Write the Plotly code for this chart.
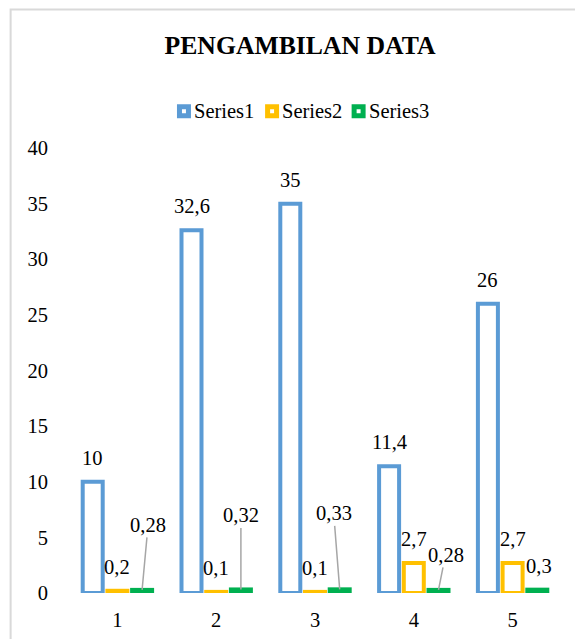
import plotly.graph_objects as go

categories = ["1", "2", "3", "4", "5"]
x_pos = [1, 2, 3, 4, 5]
series1 = [10, 32.6, 35, 11.4, 26]
series2 = [0.2, 0.1, 0.1, 2.7, 2.7]
series3 = [0.28, 0.32, 0.33, 0.28, 0.3]
series_names = ["Series1", "Series2", "Series3"]
colors = ["#5B9BD5", "#FFC000", "#00B050"]
y_ticks = [0, 5, 10, 15, 20, 25, 30, 35, 40]

FONT = "Liberation Serif, Times New Roman, serif"
FS = 20.5
W, H = 575, 631  # page body has an 8px margin
ML, MR, MT, MB = 59.5, 20.5, 140, 46
PW, PH = W - ML - MR, H - MT - MB

def px2paper_x(px):
    return (px - ML) / PW

def px2paper_y(py):
    return (H - MB - py) / PH

def fmt(v):
    return ("%g" % v).replace(".", ",")

fig = go.Figure()
all_series = [series1, series2, series3]
for name, vals, col in zip(series_names, all_series, colors):
    fig.add_trace(go.Bar(
        x=x_pos, y=vals, name=name, showlegend=False,
        marker=dict(color="white", line=dict(color=col, width=4)),
        cliponaxis=False,
    ))

bar_unit = 0.75 / 3
offsets = [-bar_unit, 0, bar_unit]

annotations = []
for si in (0, 1):
    for xv, v in zip(x_pos, all_series[si]):
        annotations.append(dict(
            x=xv + offsets[si], y=v, xref="x", yref="y",
            text=fmt(v), showarrow=False, yanchor="middle", yshift=24,
            font=dict(family=FONT, size=FS, color="#000000"),
        ))

s3_offsets = [(6, -65, True), (0, -74, True), (-6, -76, True), (7, -35, True), (2, -24, False)]
for xv, v, (ax, ay, arrow) in zip(x_pos, series3, s3_offsets):
    if arrow:
        annotations.append(dict(
            x=xv + offsets[2], y=v, xref="x", yref="y",
            text=fmt(v), showarrow=True, arrowhead=0, arrowwidth=1.5,
            arrowcolor="#A6A6A6", ax=ax, ay=ay, axref="pixel", ayref="pixel",
            font=dict(family=FONT, size=FS, color="#000000"),
        ))
    else:
        annotations.append(dict(
            x=xv + offsets[2], y=v, xref="x", yref="y",
            text=fmt(v), showarrow=False, xshift=ax, yshift=-ay,
            yanchor="middle",
            font=dict(family=FONT, size=FS, color="#000000"),
        ))

# legend drawn as squares + text (compact Excel-style legend)
legend_left = [168.7, 257.0, 343.7]
legend_cy = 103.3
shapes = []
for name, col, lx in zip(series_names, colors, legend_left):
    shapes.append(dict(type="rect", xref="paper", yref="paper",
                       x0=px2paper_x(lx + 2.5), x1=px2paper_x(lx + 11.5),
                       y0=px2paper_y(legend_cy + 4.5), y1=px2paper_y(legend_cy - 4.5),
                       line=dict(color=col, width=5), fillcolor="white"))
    annotations.append(dict(x=px2paper_x(lx + 15), y=px2paper_y(legend_cy),
                            xref="paper", yref="paper", xanchor="left",
                            yanchor="middle", showarrow=False, text=name,
                            font=dict(family=FONT, size=FS, color="#000000")))

shapes.append(dict(type="rect", xref="paper", yref="paper",
                   x0=px2paper_x(2), x1=px2paper_x(612),
                   y0=px2paper_y(700), y1=px2paper_y(1.5),
                   line=dict(color="#D9D9D9", width=2), fillcolor="rgba(0,0,0,0)",
                   layer="below"))

fig.update_layout(
    width=W, height=H,
    paper_bgcolor="white", plot_bgcolor="white",
    margin=dict(l=ML, r=MR, t=MT, b=MB, autoexpand=False),
    barmode="group", bargap=0.25, bargroupgap=0.19,
    font=dict(family=FONT, size=FS, color="#000000"),
    showlegend=False,
    title=dict(text="<b>PENGAMBILAN DATA</b>", x=292 / W, xref="container",
               xanchor="center", y=1 - 37 / H, yref="container", yanchor="middle",
               font=dict(family=FONT, size=25.7, color="#000000")),
    xaxis=dict(range=[0.5, 5.5], tickvals=x_pos, ticktext=categories,
               showgrid=False, zeroline=False, showline=False, ticks="",
               automargin=False,
               ticklabelstandoff=12, tickfont=dict(family=FONT, size=FS)),
    yaxis=dict(range=[0, 40], tickvals=y_ticks, showgrid=False, zeroline=False,
               showline=False, ticks="", ticklabelstandoff=19, automargin=False,
               tickfont=dict(family=FONT, size=FS)),
    annotations=annotations,
    shapes=shapes,
)

fig.write_html("out.html")
